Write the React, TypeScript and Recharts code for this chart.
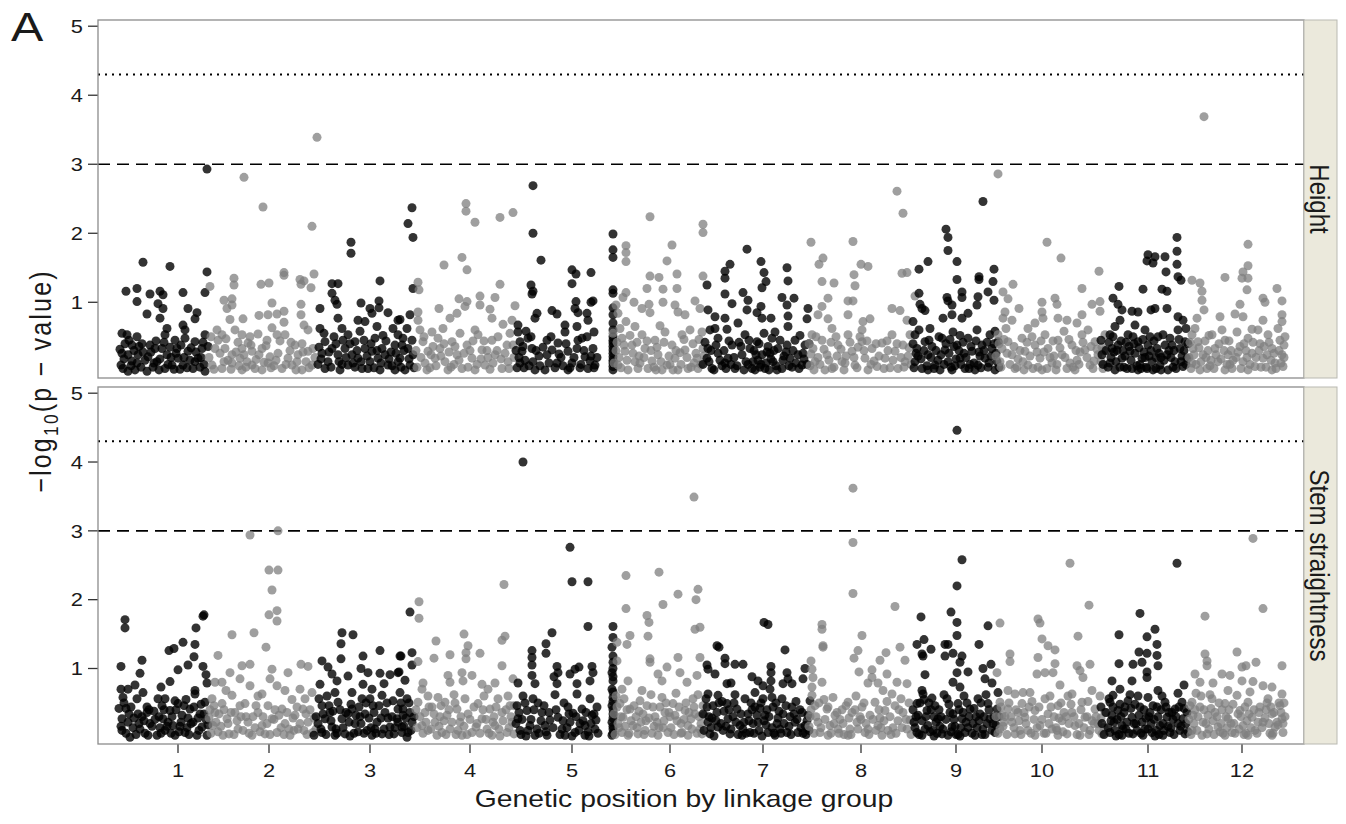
import React from "react";
import { ScatterChart, Scatter, XAxis, YAxis, ReferenceLine } from "recharts";

// ---- axis / labels ----
const GROUP_LABELS = ["1", "2", "3", "4", "5", "6", "7", "8", "9", "10", "11", "12"];
const GROUP_TICKS = [80, 171, 272, 372, 474, 572, 665, 763, 858, 944, 1050, 1144];
const Y_TICKS = [1, 2, 3, 4, 5];
const X_DOMAIN = [0, 1206];
const Y_DOMAIN = [-0.097, 5.09];
const SUGGESTIVE = 3;
const SIGNIFICANT = 4.3;
const PANELS = ["Height", "Stem straightness"];

// ---- Height: [position, -log10(p)] per linkage group ----
const H1 = [[109,2.93],[45,1.58],[72,1.52],[109,1.44],[28,1.16],[39,1.2],[39,1.01],[52,1.12],[62,1.16],[65,1.11],[85,1.14],[49,0.83],[60,0.98],[65,0.91],[62,0.77],[90,0.91],[99,0.85],[97,0.76],[107,1.14],[69,0.62],[67,0.53],[85,0.67],[87,0.6],[24,0.55],[29,0.53],[39,0.5],[27,0.4],[34,0.38],[44,0.4],[24,0.26],[30,0.24],[40,0.24],[50,0.21],[23,0.09],[30,0.0],[39,0.12],[49,0.0],[59,0.14],[64,0.33],[69,0.24],[77,0.45],[79,0.33],[80,0.19],[85,0.09],[90,0.29],[95,0.04],[97,0.43],[100,0.19],[104,0.33],[107,0.53],[107,0.0],[74,0.09],[67,0.04],[57,0.33],[87,0.48],[97,0.14],[26,0.18],[33,0.08],[45,0.28],[55,0.06],[62,0.18],[72,0.35],[82,0.03],[92,0.16],[102,0.06],[105,0.42],[36,0.3],[52,0.38],[22,0.32],[25,0.04],[31,0.45],[34,0.15],[37,0.02],[41,0.36],[43,0.06],[47,0.16],[53,0.28],[56,0.12],[58,0.44],[61,0.02],[66,0.42],[70,0.1],[73,0.2],[76,0.03],[78,0.26],[83,0.38],[86,0.2],[89,0.05],[93,0.34],[98,0.28],[103,0.2],[106,0.1],[110,0.36]];
const H2 = [[219,3.39],[146,2.81],[165,2.38],[214,2.1],[136,1.35],[136,1.25],[163,1.26],[171,1.28],[186,1.43],[186,1.39],[202,1.33],[206,1.31],[216,1.41],[203,1.26],[213,1.21],[112,1.23],[126,1.03],[134,1.05],[129,0.91],[134,0.96],[174,0.99],[203,0.97],[203,0.82],[186,0.87],[161,0.81],[170,0.82],[179,0.83],[132,0.75],[145,0.76],[174,0.63],[186,0.71],[206,0.67],[210,0.6],[119,0.6],[124,0.53],[137,0.6],[144,0.53],[152,0.5],[160,0.54],[169,0.45],[179,0.53],[187,0.53],[197,0.38],[204,0.4],[117,0.33],[127,0.33],[134,0.24],[144,0.33],[154,0.29],[164,0.33],[172,0.21],[180,0.26],[190,0.19],[200,0.24],[210,0.29],[114,0.09],[124,0.04],[134,0.12],[144,0.02],[154,0.09],[164,0.02],[170,0.12],[184,0.04],[194,0.09],[204,0.02],[214,0.09],[215,0.33],[150,0.41],[142,0.19],[120,0.45],[130,0.16],[140,0.42],[158,0.17],[176,0.08],[192,0.3],[208,0.14],[198,0.02],[148,0.06],[111,0.2],[113,0.5],[116,0.03],[122,0.26],[126,0.14],[128,0.47],[133,0.03],[138,0.28],[141,0.08],[146,0.24],[149,0.14],[153,0.38],[157,0.04],[161,0.24],[166,0.13],[168,0.37],[173,0.05],[178,0.16],[182,0.44],[188,0.1],[193,0.42],[199,0.14],[205,0.28],[211,0.05],[217,0.2]];
const H3 = [[253,1.87],[253,1.71],[234,1.27],[240,1.27],[282,1.31],[234,1.13],[237,1.03],[239,0.97],[222,0.91],[240,0.77],[263,0.99],[272,0.91],[274,0.84],[281,1.02],[281,0.92],[290,0.85],[300,0.74],[222,0.62],[244,0.62],[250,0.53],[260,0.74],[267,0.72],[279,0.65],[295,0.62],[227,0.43],[234,0.33],[230,0.14],[227,0.04],[240,0.24],[247,0.33],[250,0.09],[257,0.43],[260,0.19],[267,0.33],[270,0.04],[277,0.48],[280,0.19],[284,0.33],[290,0.09],[297,0.38],[300,0.14],[305,0.48],[242,0.02],[254,0.24],[264,0.04],[274,0.29],[287,0.24],[297,0.02],[314,2.37],[310,2.14],[315,1.94],[315,1.2],[312,0.82],[302,0.75],[309,0.62],[300,0.53],[304,0.38],[310,0.33],[302,0.19],[312,0.09],[307,0.02],[314,0.45],[315,0.24],[224,0.26],[236,0.5],[244,0.1],[262,0.58],[272,0.14],[285,0.52],[293,0.28],[257,0.06],[282,0.02],[220,0.1],[221,0.35],[223,0.18],[226,0.55],[231,0.28],[233,0.06],[238,0.4],[241,0.14],[245,0.45],[248,0.2],[252,0.4],[255,0.12],[259,0.3],[263,0.14],[266,0.45],[269,0.22],[273,0.4],[276,0.05],[279,0.3],[283,0.12],[288,0.44],[291,0.18],[294,0.08],[298,0.26],[303,0.06],[306,0.3],[311,0.18],[316,0.05]];
const H4 = [[368,2.43],[368,2.32],[377,2.16],[402,2.23],[415,2.3],[346,1.54],[364,1.65],[369,1.47],[320,1.29],[321,1.18],[402,1.26],[382,1.09],[397,1.07],[361,1.05],[369,1.01],[382,0.96],[341,0.91],[392,0.9],[352,0.77],[359,0.84],[367,0.94],[417,0.95],[394,0.77],[320,0.86],[320,0.74],[377,0.6],[405,0.68],[414,0.74],[325,0.43],[330,0.29],[327,0.12],[340,0.48],[342,0.33],[347,0.14],[354,0.43],[359,0.24],[364,0.04],[369,0.38],[374,0.19],[380,0.53],[384,0.31],[387,0.09],[394,0.45],[397,0.24],[404,0.04],[409,0.38],[410,0.14],[350,0.02],[337,0.19],[377,0.02],[334,0.57],[322,0.6],[332,0.05],[345,0.62],[356,0.1],[362,0.55],[372,0.3],[390,0.2],[400,0.5],[412,0.55],[416,0.2],[392,0.03],[335,0.36],[318,0.3],[319,0.06],[323,0.2],[326,0.5],[329,0.02],[333,0.24],[338,0.08],[343,0.22],[346,0.4],[351,0.28],[353,0.06],[357,0.36],[361,0.16],[366,0.26],[370,0.06],[375,0.44],[379,0.1],[383,0.18],[386,0.44],[389,0.3],[395,0.12],[399,0.3],[403,0.18],[407,0.26],[411,0.04],[415,0.38]];
const H5 = [[435,2.69],[435,2.0],[443,1.61],[474,1.47],[478,1.41],[493,1.43],[474,1.27],[433,1.25],[435,1.16],[434,1.12],[478,1.01],[477,0.91],[480,0.85],[495,1.02],[493,1.0],[454,0.88],[459,0.83],[439,0.84],[437,0.77],[489,0.84],[490,0.74],[420,0.67],[420,0.57],[467,0.67],[479,0.65],[496,0.57],[515,1.99],[515,1.76],[515,1.65],[515,1.18],[515,1.13],[515,0.82],[515,0.6],[515,0.5],[515,0.41],[515,0.31],[515,0.21],[515,0.12],[515,0.02],[422,0.43],[424,0.29],[422,0.12],[430,0.48],[434,0.33],[435,0.14],[437,0.02],[449,0.45],[449,0.24],[447,0.02],[459,0.12],[460,0.41],[467,0.57],[470,0.29],[474,0.12],[479,0.33],[484,0.48],[487,0.21],[490,0.04],[495,0.33],[497,0.09],[470,0.02],[454,0.31],[515,0.7],[515,0.92],[515,0.26],[515,0.07],[426,0.05],[441,0.22],[482,0.05],[492,0.15],[463,0.2],[428,0.58],[418,0.3],[419,0.05],[421,0.2],[425,0.36],[427,0.16],[431,0.08],[433,0.5],[438,0.3],[442,0.08],[445,0.35],[451,0.12],[453,0.5],[457,0.05],[461,0.25],[465,0.08],[468,0.4],[472,0.05],[476,0.2],[480,0.45],[483,0.1],[486,0.3],[489,0.5],[493,0.22],[496,0.05],[499,0.2],[515,0.16],[515,0.45],[515,0.36]];
const H6 = [[552,2.24],[605,2.13],[605,2.01],[528,1.82],[528,1.72],[528,1.59],[574,1.83],[569,1.6],[552,1.38],[561,1.36],[579,1.41],[605,1.38],[549,1.2],[565,1.19],[579,1.2],[528,1.14],[525,1.07],[536,1.0],[544,0.91],[551,0.97],[552,0.85],[565,1.0],[577,0.96],[580,0.86],[518,0.96],[520,0.84],[597,1.02],[602,0.91],[587,0.82],[528,0.72],[537,0.65],[524,0.48],[527,0.29],[520,0.09],[534,0.38],[537,0.14],[544,0.53],[547,0.33],[550,0.04],[557,0.45],[560,0.24],[567,0.57],[569,0.09],[574,0.38],[577,0.19],[584,0.53],[587,0.31],[590,0.04],[595,0.4],[599,0.19],[604,0.57],[605,0.33],[530,0.02],[564,0.02],[580,0.02],[600,0.04],[518,0.3],[522,0.62],[540,0.04],[554,0.15],[562,0.66],[572,0.1],[582,0.27],[592,0.6],[596,0.12],[558,0.02],[541,0.22],[515,0.55],[516,0.12],[519,0.42],[521,0.2],[523,0.05],[526,0.38],[529,0.16],[532,0.52],[535,0.26],[539,0.42],[542,0.12],[546,0.2],[549,0.44],[553,0.3],[556,0.06],[559,0.35],[563,0.14],[566,0.42],[571,0.22],[575,0.02],[578,0.3],[583,0.1],[586,0.46],[589,0.2],[593,0.06],[598,0.26],[601,0.46],[603,0.1],[606,0.22]];
const H7 = [[649,1.77],[632,1.55],[627,1.45],[627,1.35],[663,1.59],[666,1.43],[668,1.3],[664,1.21],[689,1.5],[690,1.31],[609,1.25],[645,1.14],[650,1.03],[649,0.89],[627,1.12],[634,0.98],[684,1.07],[696,1.06],[689,0.96],[663,0.94],[659,0.85],[664,0.77],[673,0.77],[610,0.89],[617,0.79],[627,0.77],[640,0.7],[690,0.8],[690,0.65],[710,0.91],[709,0.76],[629,0.61],[617,0.62],[677,0.57],[610,0.33],[609,0.19],[614,0.04],[620,0.48],[620,0.26],[627,0.12],[634,0.38],[637,0.04],[644,0.24],[647,0.53],[652,0.33],[655,0.14],[659,0.43],[664,0.24],[667,0.04],[670,0.36],[675,0.14],[680,0.33],[684,0.04],[689,0.38],[692,0.19],[697,0.45],[700,0.24],[704,0.09],[707,0.38],[657,0.02],[674,0.48],[630,0.19],[612,0.6],[624,0.08],[641,0.42],[650,0.1],[660,0.16],[666,0.55],[672,0.26],[678,0.08],[686,0.22],[694,0.06],[702,0.52],[706,0.18],[646,0.02],[662,0.06],[656,0.3],[668,0.12],[605,0.1],[607,0.42],[611,0.14],[613,0.3],[616,0.02],[618,0.38],[622,0.16],[626,0.3],[628,0.04],[631,0.44],[633,0.1],[636,0.2],[639,0.08],[643,0.36],[648,0.14],[651,0.45],[654,0.04],[658,0.24],[661,0.4],[663,0.1],[669,0.28],[671,0.02],[673,0.18],[676,0.3],[679,0.02],[682,0.45],[685,0.16],[688,0.28],[691,0.08],[695,0.3],[698,0.12],[701,0.04],[705,0.26],[709,0.1],[711,0.4]];
const H8 = [[799,2.61],[805,2.29],[713,1.87],[755,1.88],[725,1.64],[721,1.55],[763,1.55],[770,1.52],[756,1.4],[757,1.24],[724,1.3],[736,1.28],[804,1.42],[809,1.43],[730,1.06],[724,0.94],[750,1.02],[755,1.02],[750,0.82],[794,0.91],[802,0.88],[817,1.09],[720,0.82],[730,0.76],[734,0.62],[765,0.72],[772,0.76],[764,0.6],[809,0.74],[714,0.53],[715,0.33],[717,0.14],[724,0.45],[729,0.24],[734,0.04],[740,0.38],[744,0.14],[750,0.53],[754,0.29],[757,0.09],[764,0.43],[767,0.19],[774,0.33],[779,0.07],[784,0.41],[787,0.19],[794,0.53],[797,0.29],[800,0.04],[805,0.38],[807,0.14],[812,0.53],[727,0.02],[770,0.02],[712,0.08],[720,0.2],[738,0.5],[746,0.02],[760,0.35],[776,0.15],[790,0.3],[792,0.05],[810,0.22],[748,0.22],[711,0.4],[713,0.25],[716,0.02],[718,0.5],[722,0.1],[726,0.32],[731,0.16],[733,0.42],[736,0.06],[739,0.22],[743,0.32],[747,0.12],[752,0.42],[756,0.2],[759,0.05],[762,0.5],[766,0.3],[769,0.44],[773,0.1],[778,0.4],[781,0.22],[786,0.04],[789,0.44],[795,0.16],[799,0.4],[803,0.2],[806,0.06],[811,0.34],[813,0.1]];
const H9 = [[885,2.46],[848,2.06],[850,1.94],[850,1.75],[830,1.59],[821,1.48],[859,1.59],[859,1.33],[881,1.37],[881,1.33],[896,1.48],[895,1.3],[821,1.13],[822,0.97],[827,0.88],[824,0.91],[849,1.07],[850,1.02],[854,0.96],[864,1.15],[864,1.07],[880,1.08],[890,1.15],[896,1.03],[845,0.77],[854,0.82],[864,0.77],[870,0.84],[879,0.96],[817,0.53],[819,0.33],[817,0.14],[824,0.04],[827,0.43],[830,0.24],[837,0.09],[844,0.48],[847,0.31],[850,0.14],[855,0.57],[859,0.38],[862,0.19],[867,0.04],[870,0.48],[874,0.29],[879,0.6],[880,0.09],[884,0.38],[887,0.19],[892,0.53],[894,0.33],[899,0.14],[900,0.43],[830,0.02],[854,0.02],[877,0.02],[897,0.02],[815,0.72],[820,0.22],[834,0.36],[840,0.16],[852,0.46],[857,0.08],[866,0.26],[872,0.1],[882,0.22],[890,0.06],[897,0.58],[842,0.02],[862,0.52],[832,0.62],[815,0.4],[816,0.05],[818,0.26],[821,0.6],[823,0.18],[826,0.3],[829,0.08],[831,0.45],[833,0.2],[836,0.04],[838,0.3],[841,0.5],[843,0.24],[846,0.1],[848,0.4],[851,0.26],[853,0.06],[856,0.36],[858,0.18],[861,0.3],[863,0.1],[865,0.42],[868,0.2],[871,0.04],[873,0.36],[876,0.12],[878,0.44],[881,0.28],[883,0.05],[886,0.3],[889,0.42],[891,0.12],[893,0.22],[896,0.4],[898,0.26],[901,0.06]];
const H10 = [[900,2.86],[949,1.87],[963,1.64],[1001,1.45],[915,1.26],[984,1.2],[910,1.05],[905,1.15],[944,1.0],[957,1.06],[959,0.97],[1002,1.01],[1002,0.87],[994,0.97],[921,0.91],[907,0.86],[944,0.86],[945,0.77],[960,0.77],[969,0.74],[984,0.82],[979,0.7],[905,0.77],[914,0.74],[930,0.62],[937,0.7],[900,0.53],[904,0.33],[902,0.14],[910,0.43],[914,0.24],[917,0.04],[924,0.48],[927,0.29],[930,0.09],[937,0.38],[942,0.19],[947,0.53],[950,0.33],[954,0.12],[960,0.45],[964,0.24],[969,0.04],[974,0.38],[979,0.16],[984,0.53],[987,0.31],[992,0.09],[997,0.43],[1000,0.24],[1005,0.04],[1007,0.53],[944,0.02],[977,0.02],[908,0.62],[920,0.18],[934,0.5],[940,0.06],[956,0.22],[966,0.58],[972,0.12],[982,0.28],[990,0.6],[996,0.15],[1004,0.35],[926,0.02],[958,0.02],[898,0.22],[901,0.4],[903,0.06],[906,0.46],[909,0.26],[912,0.1],[916,0.36],[919,0.06],[922,0.3],[925,0.14],[929,0.42],[932,0.22],[935,0.04],[939,0.28],[943,0.44],[946,0.28],[949,0.04],[952,0.2],[955,0.44],[959,0.1],[962,0.34],[967,0.2],[971,0.46],[975,0.06],[978,0.3],[981,0.1],[985,0.42],[989,0.2],[993,0.36],[995,0.04],[999,0.32],[1003,0.14],[1006,0.3]];
const H11 = [[1079,1.94],[1079,1.74],[1079,1.55],[1080,1.37],[1083,1.32],[1050,1.69],[1057,1.66],[1049,1.6],[1055,1.57],[1067,1.66],[1068,1.44],[1021,1.23],[1045,1.19],[1064,1.19],[1069,1.16],[1015,1.06],[1020,0.97],[1024,0.89],[1034,0.87],[1040,0.86],[1053,0.89],[1057,0.91],[1069,0.91],[1080,0.79],[1085,0.74],[1022,0.74],[1017,0.65],[1037,0.67],[1047,0.6],[1003,0.45],[1004,0.24],[1012,0.53],[1014,0.33],[1012,0.12],[1020,0.38],[1024,0.19],[1030,0.53],[1032,0.29],[1034,0.04],[1040,0.43],[1044,0.19],[1049,0.04],[1050,0.38],[1054,0.14],[1059,0.33],[1062,0.09],[1065,0.53],[1069,0.24],[1074,0.38],[1077,0.14],[1080,0.6],[1082,0.33],[1085,0.07],[1087,0.43],[1089,0.19],[1017,0.02],[1040,0.02],[1070,0.02],[1016,0.28],[1026,0.06],[1036,0.4],[1046,0.28],[1052,0.5],[1058,0.04],[1063,0.2],[1072,0.48],[1075,0.06],[1084,0.22],[1088,0.62],[1028,0.42],[1042,0.1],[1005,0.1],[1008,0.3],[1010,0.06],[1011,0.42],[1013,0.2],[1015,0.5],[1018,0.14],[1019,0.3],[1022,0.06],[1023,0.44],[1025,0.3],[1027,0.22],[1029,0.04],[1031,0.36],[1033,0.16],[1035,0.5],[1037,0.26],[1039,0.08],[1041,0.34],[1043,0.04],[1045,0.46],[1047,0.2],[1048,0.06],[1051,0.22],[1053,0.3],[1055,0.02],[1056,0.44],[1058,0.2],[1060,0.5],[1061,0.26],[1063,0.02],[1066,0.16],[1067,0.38],[1071,0.3],[1073,0.2],[1076,0.3],[1078,0.04],[1081,0.46],[1083,0.14],[1086,0.3],[1088,0.1],[1090,0.4]];
const H12 = [[1106,3.69],[1150,1.84],[1150,1.53],[1145,1.44],[1144,1.35],[1150,1.35],[1149,1.18],[1094,1.32],[1102,1.28],[1104,1.16],[1127,1.36],[1179,1.2],[1104,1.03],[1106,0.89],[1142,0.97],[1165,1.06],[1167,1.0],[1184,1.02],[1099,0.77],[1122,0.79],[1137,0.83],[1145,0.79],[1184,0.82],[1184,0.72],[1165,0.74],[1154,0.61],[1094,0.53],[1095,0.33],[1094,0.12],[1100,0.43],[1105,0.24],[1109,0.04],[1114,0.53],[1117,0.33],[1120,0.14],[1127,0.45],[1130,0.24],[1134,0.04],[1139,0.57],[1142,0.36],[1145,0.14],[1150,0.48],[1154,0.26],[1157,0.07],[1162,0.4],[1165,0.19],[1170,0.53],[1174,0.33],[1177,0.12],[1182,0.45],[1184,0.24],[1185,0.07],[1102,0.02],[1127,0.02],[1150,0.02],[1174,0.02],[1097,0.62],[1110,0.3],[1124,0.6],[1132,0.1],[1148,0.3],[1160,0.6],[1168,0.06],[1180,0.62],[1186,0.38],[1112,0.08],[1138,0.2],[1091,0.2],[1092,0.42],[1093,0.04],[1096,0.24],[1098,0.1],[1101,0.34],[1103,0.14],[1107,0.44],[1108,0.2],[1111,0.52],[1113,0.16],[1116,0.04],[1118,0.24],[1121,0.4],[1123,0.18],[1126,0.3],[1129,0.1],[1131,0.44],[1133,0.3],[1135,0.16],[1140,0.28],[1143,0.04],[1146,0.4],[1149,0.2],[1152,0.1],[1155,0.42],[1158,0.2],[1161,0.3],[1163,0.06],[1166,0.36],[1169,0.24],[1171,0.42],[1173,0.16],[1176,0.26],[1178,0.04],[1181,0.3],[1183,0.12],[1186,0.2],[1187,0.5]];

// ---- Stem straightness ----
const S1 = [[27,1.71],[27,1.59],[23,1.03],[44,1.12],[42,0.93],[23,0.7],[30,0.7],[37,0.76],[25,0.58],[45,0.65],[39,0.56],[71,1.26],[76,1.29],[85,1.38],[80,0.98],[90,1.05],[96,1.17],[97,1.35],[98,1.59],[105,1.76],[106,1.78],[105,1.03],[108,0.91],[109,0.79],[63,0.73],[72,0.81],[97,0.68],[97,0.63],[49,0.44],[49,0.36],[67,0.56],[77,0.53],[24,0.27],[30,0.22],[24,0.1],[32,0.0],[40,0.34],[42,0.12],[52,0.2],[59,0.03],[64,0.46],[65,0.27],[67,0.1],[72,0.39],[75,0.17],[80,0.49],[84,0.32],[87,0.07],[92,0.41],[95,0.22],[99,0.03],[102,0.34],[104,0.15],[107,0.51],[109,0.03],[77,0.03],[50,0.03],[28,0.42],[35,0.14],[46,0.24],[56,0.38],[62,0.14],[70,0.22],[82,0.16],[90,0.28],[101,0.1],[108,0.26],[60,0.56],[88,0.55],[21,0.42],[23,0.16],[26,0.5],[28,0.06],[31,0.34],[33,0.44],[36,0.28],[38,0.04],[41,0.2],[44,0.3],[47,0.06],[51,0.4],[54,0.16],[57,0.26],[61,0.3],[63,0.06],[66,0.4],[69,0.16],[73,0.06],[74,0.3],[78,0.4],[81,0.08],[83,0.22],[86,0.46],[89,0.14],[91,0.04],[93,0.2],[96,0.44],[100,0.28],[103,0.48],[106,0.34],[110,0.18]];
const S2 = [[152,2.94],[180,3.0],[171,2.43],[180,2.43],[174,2.14],[179,1.84],[171,1.78],[179,1.69],[156,1.52],[134,1.49],[168,1.31],[120,1.19],[144,1.04],[152,1.06],[190,0.94],[203,1.06],[210,1.03],[174,0.99],[172,0.85],[132,0.94],[142,0.85],[117,0.8],[124,0.8],[152,0.75],[164,0.63],[179,0.75],[187,0.68],[202,0.7],[207,0.56],[114,0.56],[117,0.36],[115,0.17],[124,0.49],[129,0.27],[125,0.03],[134,0.61],[137,0.36],[140,0.12],[147,0.49],[150,0.22],[154,0.03],[160,0.36],[164,0.17],[170,0.46],[174,0.27],[179,0.07],[184,0.41],[187,0.2],[192,0.03],[197,0.32],[200,0.12],[205,0.41],[210,0.22],[215,0.07],[214,0.65],[112,0.4],[120,0.08],[131,0.05],[143,0.3],[157,0.14],[167,0.05],[177,0.4],[194,0.55],[209,0.04],[196,0.1],[160,0.6],[128,0.68],[111,0.28],[113,0.06],[116,0.46],[118,0.22],[121,0.34],[123,0.16],[126,0.4],[130,0.2],[133,0.36],[136,0.04],[139,0.24],[142,0.46],[145,0.1],[148,0.3],[151,0.06],[155,0.3],[158,0.46],[162,0.08],[165,0.3],[169,0.2],[172,0.04],[176,0.26],[181,0.32],[183,0.14],[186,0.04],[189,0.36],[191,0.12],[195,0.28],[199,0.44],[202,0.2],[206,0.1],[208,0.34],[212,0.4],[216,0.28],[218,0.12]];
const S3 = [[244,1.52],[255,1.49],[243,1.36],[243,1.14],[282,1.26],[265,1.18],[224,1.11],[230,1.02],[303,1.18],[234,0.92],[239,0.82],[263,1.0],[270,0.94],[282,0.93],[292,0.91],[301,0.95],[250,0.89],[222,0.77],[237,0.65],[254,0.65],[265,0.77],[274,0.7],[224,0.46],[227,0.27],[224,0.07],[232,0.36],[234,0.15],[240,0.51],[244,0.27],[247,0.05],[254,0.41],[257,0.2],[264,0.56],[267,0.34],[269,0.1],[275,0.46],[279,0.22],[284,0.05],[287,0.36],[292,0.15],[295,0.53],[299,0.27],[304,0.07],[305,0.41],[237,0.03],[274,0.03],[284,0.61],[312,1.82],[314,1.23],[302,1.18],[314,1.05],[300,0.94],[307,0.83],[302,0.65],[309,0.56],[300,0.41],[305,0.32],[312,0.36],[304,0.15],[310,0.07],[314,0.22],[309,0.0],[220,0.2],[229,0.6],[238,0.12],[250,0.34],[260,0.08],[262,0.3],[272,0.56],[277,0.12],[290,0.28],[296,0.05],[252,0.02],[216,0.03],[286,0.78],[218,0.3],[221,0.56],[223,0.12],[225,0.34],[228,0.04],[231,0.46],[233,0.24],[235,0.38],[239,0.06],[242,0.4],[245,0.14],[248,0.36],[251,0.22],[253,0.48],[256,0.06],[258,0.32],[261,0.44],[263,0.2],[266,0.06],[268,0.5],[271,0.28],[273,0.14],[276,0.36],[278,0.06],[281,0.46],[283,0.28],[286,0.12],[289,0.5],[291,0.04],[294,0.3],[297,0.14],[300,0.22],[303,0.5],[306,0.16],[308,0.28],[311,0.5],[313,0.1],[316,0.3]];
const S4 = [[321,1.97],[321,1.73],[406,2.22],[407,1.47],[404,1.41],[366,1.5],[338,1.4],[370,1.33],[368,1.23],[368,1.14],[382,1.22],[352,1.2],[336,1.15],[320,1.1],[404,1.04],[350,0.9],[352,0.8],[364,0.94],[374,0.9],[365,0.82],[325,0.79],[324,0.7],[384,0.77],[397,0.79],[390,0.7],[415,0.85],[340,0.58],[320,0.51],[327,0.36],[324,0.17],[334,0.44],[337,0.22],[339,0.03],[347,0.51],[349,0.32],[352,0.12],[359,0.41],[362,0.22],[367,0.56],[370,0.34],[374,0.07],[380,0.49],[384,0.27],[389,0.12],[392,0.41],[397,0.17],[400,0.56],[404,0.36],[409,0.07],[412,0.46],[414,0.22],[364,0.03],[394,0.03],[344,0.07],[330,0.6],[342,0.3],[356,0.62],[358,0.04],[378,0.15],[386,0.6],[396,0.3],[402,0.02],[410,0.6],[416,0.05],[330,0.1],[318,0.4],[319,0.14],[322,0.3],[325,0.06],[328,0.22],[331,0.44],[333,0.12],[336,0.34],[341,0.16],[343,0.46],[346,0.24],[348,0.04],[351,0.4],[354,0.22],[357,0.5],[360,0.1],[363,0.3],[366,0.16],[369,0.04],[372,0.26],[376,0.44],[379,0.2],[382,0.06],[385,0.4],[388,0.26],[391,0.06],[395,0.22],[398,0.44],[401,0.12],[405,0.24],[408,0.4],[411,0.14],[413,0.3],[416,0.46]];
const S5 = [[425,4.0],[472,2.76],[474,2.26],[490,2.26],[490,1.61],[454,1.52],[448,1.36],[448,1.22],[434,1.26],[434,1.16],[434,1.05],[420,0.79],[459,1.03],[460,0.94],[456,0.88],[459,0.78],[457,0.62],[472,0.92],[477,0.99],[481,1.02],[494,1.03],[495,0.94],[492,0.82],[479,0.78],[479,0.63],[434,0.9],[437,0.78],[515,1.61],[514,1.31],[515,1.18],[515,1.09],[514,0.94],[515,0.82],[514,0.7],[515,0.58],[514,0.46],[515,0.34],[514,0.22],[515,0.12],[514,0.03],[419,0.46],[420,0.27],[422,0.1],[429,0.39],[432,0.17],[435,0.56],[437,0.03],[444,0.36],[447,0.17],[449,0.03],[460,0.29],[464,0.12],[470,0.44],[472,0.22],[477,0.07],[484,0.41],[487,0.17],[492,0.56],[494,0.32],[497,0.12],[499,0.44],[487,0.03],[467,0.03],[515,1.45],[515,0.4],[515,0.06],[425,0.6],[440,0.5],[452,0.25],[466,0.5],[482,0.2],[490,0.08],[498,0.25],[428,0.02],[475,0.35],[418,0.2],[421,0.36],[423,0.04],[424,0.26],[427,0.5],[430,0.1],[433,0.26],[436,0.4],[439,0.12],[441,0.06],[443,0.24],[446,0.46],[448,0.08],[451,0.36],[455,0.14],[458,0.4],[462,0.04],[465,0.24],[469,0.14],[471,0.34],[474,0.02],[478,0.3],[481,0.1],[485,0.24],[488,0.36],[491,0.02],[493,0.2],[496,0.34],[500,0.06],[515,0.28],[515,0.52],[515,0.16],[515,0.66],[515,0.88],[515,1.0]];
const S6 = [[596,3.49],[528,2.35],[561,2.4],[580,2.08],[600,2.15],[598,2.0],[565,1.93],[528,1.87],[549,1.77],[551,1.67],[550,1.47],[532,1.48],[529,1.35],[519,1.38],[597,1.57],[602,1.6],[552,1.14],[552,1.09],[580,1.16],[569,1.02],[519,1.11],[602,1.16],[560,0.92],[564,0.82],[582,0.94],[530,0.82],[524,0.7],[599,0.9],[589,0.8],[544,0.68],[522,0.49],[525,0.29],[524,0.07],[532,0.41],[535,0.17],[542,0.53],[545,0.34],[547,0.1],[555,0.44],[559,0.22],[564,0.58],[567,0.36],[570,0.07],[575,0.49],[579,0.24],[584,0.07],[587,0.39],[590,0.17],[595,0.56],[597,0.34],[602,0.12],[605,0.46],[530,0.03],[560,0.03],[590,0.03],[518,0.6],[520,0.2],[538,0.3],[540,0.05],[553,0.62],[556,0.16],[572,0.3],[578,0.64],[583,0.2],[593,0.27],[600,0.62],[604,0.05],[548,0.24],[565,0.14],[516,0.34],[517,0.04],[519,0.44],[521,0.14],[523,0.3],[526,0.56],[527,0.16],[529,0.4],[531,0.06],[533,0.24],[536,0.46],[539,0.14],[541,0.38],[543,0.22],[546,0.04],[549,0.46],[551,0.28],[554,0.06],[557,0.3],[561,0.14],[562,0.44],[566,0.24],[568,0.5],[571,0.36],[573,0.14],[576,0.04],[577,0.32],[581,0.44],[583,0.06],[586,0.26],[588,0.5],[591,0.36],[594,0.12],[596,0.44],[599,0.06],[601,0.3],[603,0.2],[606,0.32]];
const S7 = [[666,1.67],[670,1.64],[687,1.27],[619,1.33],[621,1.31],[627,1.15],[627,1.07],[637,1.06],[645,1.06],[609,1.05],[610,0.99],[617,0.92],[673,1.03],[673,0.94],[673,0.82],[689,0.94],[690,0.85],[707,1.0],[705,0.85],[654,0.88],[660,0.82],[629,0.78],[633,0.79],[665,0.75],[672,0.7],[694,0.78],[685,0.78],[610,0.63],[620,0.61],[657,0.65],[674,0.58],[712,0.53],[609,0.44],[610,0.22],[612,0.05],[619,0.36],[620,0.15],[629,0.49],[630,0.27],[632,0.05],[639,0.41],[642,0.17],[647,0.56],[650,0.34],[652,0.07],[657,0.44],[660,0.22],[665,0.56],[667,0.32],[670,0.07],[675,0.44],[679,0.2],[684,0.56],[685,0.34],[689,0.07],[694,0.44],[697,0.22],[700,0.07],[704,0.36],[707,0.17],[710,0.32],[644,0.03],[677,0.03],[614,0.28],[624,0.52],[625,0.1],[635,0.3],[637,0.62],[645,0.12],[655,0.2],[662,0.42],[664,0.02],[681,0.38],[682,0.12],[692,0.3],[698,0.52],[703,0.14],[708,0.04],[653,0.5],[668,0.18],[605,0.34],[606,0.1],[608,0.56],[611,0.3],[613,0.14],[615,0.46],[616,0.02],[618,0.24],[621,0.5],[623,0.2],[626,0.38],[628,0.16],[631,0.4],[633,0.12],[636,0.5],[638,0.22],[640,0.04],[643,0.34],[646,0.22],[648,0.06],[651,0.24],[654,0.4],[656,0.06],[659,0.32],[661,0.1],[663,0.5],[666,0.24],[669,0.4],[671,0.3],[674,0.14],[676,0.06],[678,0.5],[680,0.28],[683,0.06],[686,0.2],[688,0.46],[691,0.16],[693,0.04],[696,0.34],[699,0.26],[702,0.4],[705,0.06],[709,0.24],[711,0.1]];
const S8 = [[755,3.62],[755,2.83],[755,2.09],[797,1.9],[724,1.64],[724,1.57],[764,1.48],[725,1.33],[725,1.31],[760,1.26],[756,1.15],[788,1.23],[802,1.31],[713,1.11],[714,0.99],[782,1.12],[807,1.12],[761,0.95],[774,0.98],[789,0.92],[774,0.87],[715,0.87],[724,0.8],[770,0.79],[780,0.79],[799,0.8],[809,0.78],[714,0.73],[714,0.61],[785,0.68],[794,0.63],[717,0.46],[720,0.22],[722,0.07],[729,0.41],[732,0.17],[735,0.58],[737,0.32],[750,0.51],[754,0.36],[752,0.12],[759,0.22],[764,0.44],[767,0.07],[772,0.32],[777,0.51],[780,0.17],[787,0.39],[790,0.1],[797,0.46],[800,0.24],[805,0.36],[809,0.12],[750,0.03],[784,0.03],[730,0.03],[712,0.3],[726,0.55],[740,0.12],[744,0.4],[746,0.04],[758,0.6],[762,0.3],[770,0.12],[782,0.28],[793,0.04],[803,0.56],[812,0.25],[742,0.26],[711,0.16],[713,0.4],[716,0.06],[718,0.3],[721,0.5],[723,0.14],[727,0.26],[730,0.44],[733,0.06],[736,0.2],[739,0.36],[741,0.06],[745,0.2],[748,0.46],[751,0.28],[753,0.04],[757,0.4],[760,0.12],[763,0.26],[766,0.5],[768,0.2],[771,0.04],[775,0.26],[778,0.1],[781,0.4],[783,0.14],[786,0.24],[789,0.52],[792,0.3],[795,0.14],[798,0.06],[801,0.4],[804,0.14],[808,0.26],[811,0.5],[813,0.04]];
const S9 = [[859,4.46],[864,2.58],[859,2.2],[853,1.82],[859,1.67],[823,1.75],[859,1.48],[850,1.35],[847,1.35],[890,1.62],[881,1.35],[819,1.35],[826,1.42],[833,1.28],[824,1.21],[825,1.18],[847,1.18],[855,1.22],[864,1.18],[862,1.09],[859,0.94],[885,1.0],[893,1.06],[827,0.91],[870,0.95],[887,0.85],[894,0.79],[855,0.8],[862,0.73],[824,0.68],[825,0.63],[834,0.57],[819,0.49],[820,0.32],[819,0.07],[829,0.39],[830,0.17],[837,0.46],[840,0.27],[844,0.05],[849,0.56],[852,0.36],[854,0.15],[860,0.49],[864,0.27],[867,0.07],[872,0.41],[875,0.2],[880,0.56],[882,0.34],[885,0.12],[890,0.49],[892,0.27],[897,0.07],[899,0.41],[900,0.65],[824,0.03],[850,0.03],[877,0.03],[816,0.22],[826,0.55],[832,0.08],[836,0.3],[842,0.16],[846,0.62],[856,0.26],[858,0.04],[866,0.6],[870,0.14],[878,0.3],[884,0.04],[888,0.62],[895,0.2],[862,0.02],[836,0.02],[815,0.4],[817,0.14],[818,0.3],[821,0.04],[822,0.5],[824,0.24],[827,0.12],[828,0.3],[831,0.5],[833,0.4],[835,0.1],[838,0.22],[839,0.06],[841,0.4],[843,0.3],[845,0.12],[848,0.26],[851,0.48],[853,0.08],[855,0.34],[857,0.16],[860,0.04],[861,0.4],[863,0.14],[865,0.36],[868,0.22],[869,0.5],[871,0.3],[874,0.06],[876,0.42],[879,0.14],[881,0.24],[883,0.5],[886,0.3],[887,0.04],[889,0.2],[891,0.4],[894,0.1],[896,0.3],[898,0.18],[901,0.3]];
const S10 = [[902,1.66],[972,2.53],[991,1.92],[940,1.72],[942,1.66],[980,1.47],[944,1.43],[950,1.33],[957,1.27],[912,1.21],[912,1.1],[940,1.16],[957,1.07],[955,0.94],[979,1.04],[992,1.06],[982,0.97],[985,0.87],[939,0.92],[947,0.94],[899,0.94],[962,0.76],[974,0.63],[910,0.68],[917,0.63],[925,0.65],[932,0.65],[994,0.68],[902,0.51],[904,0.32],[902,0.12],[910,0.41],[914,0.22],[917,0.05],[924,0.49],[927,0.29],[930,0.1],[937,0.39],[942,0.17],[947,0.56],[950,0.34],[954,0.12],[960,0.46],[964,0.24],[969,0.05],[974,0.36],[977,0.17],[984,0.51],[987,0.29],[992,0.1],[997,0.41],[1000,0.2],[1004,0.05],[1007,0.36],[937,0.03],[982,0.03],[906,0.22],[920,0.36],[922,0.1],[934,0.52],[946,0.06],[952,0.6],[958,0.14],[966,0.36],[970,0.6],[990,0.52],[996,0.2],[1002,0.6],[960,0.03],[898,0.3],[900,0.06],[903,0.44],[905,0.16],[907,0.3],[909,0.04],[911,0.5],[913,0.3],[916,0.14],[918,0.4],[921,0.24],[923,0.04],[926,0.36],[928,0.2],[931,0.44],[933,0.06],[936,0.26],[939,0.14],[941,0.44],[944,0.26],[948,0.06],[951,0.2],[953,0.44],[956,0.3],[959,0.1],[961,0.28],[963,0.5],[965,0.08],[968,0.3],[971,0.2],[973,0.48],[976,0.3],[979,0.04],[981,0.2],[983,0.4],[986,0.14],[989,0.3],[991,0.04],[994,0.24],[998,0.3],[1001,0.1],[1003,0.28],[1006,0.14]];
const S11 = [[1079,2.53],[1042,1.8],[1021,1.49],[1057,1.57],[1049,1.46],[1059,1.35],[1041,1.24],[1049,1.22],[1059,1.19],[1021,1.07],[1035,1.06],[1044,1.09],[1060,1.04],[1049,0.95],[1049,0.87],[1014,0.82],[1034,0.82],[1022,0.7],[1015,0.61],[1080,0.64],[1086,0.76],[1060,0.68],[1003,0.44],[1012,0.51],[1014,0.32],[1012,0.07],[1020,0.39],[1024,0.17],[1030,0.53],[1034,0.29],[1035,0.05],[1042,0.44],[1044,0.22],[1050,0.58],[1052,0.36],[1054,0.07],[1059,0.44],[1062,0.17],[1067,0.51],[1069,0.29],[1072,0.07],[1077,0.41],[1080,0.2],[1084,0.51],[1085,0.27],[1087,0.05],[1089,0.36],[1024,0.03],[1045,0.03],[1065,0.03],[1016,0.22],[1018,0.02],[1026,0.36],[1028,0.12],[1038,0.2],[1040,0.6],[1047,0.12],[1056,0.26],[1064,0.6],[1070,0.16],[1074,0.36],[1082,0.1],[1057,0.02],[1032,0.62],[1004,0.2],[1006,0.04],[1008,0.36],[1010,0.14],[1011,0.56],[1013,0.24],[1015,0.44],[1017,0.1],[1019,0.26],[1021,0.04],[1022,0.48],[1023,0.3],[1025,0.12],[1027,0.44],[1029,0.22],[1031,0.06],[1033,0.42],[1036,0.2],[1037,0.48],[1039,0.1],[1041,0.32],[1043,0.06],[1046,0.4],[1048,0.28],[1050,0.12],[1051,0.3],[1053,0.2],[1055,0.46],[1058,0.1],[1060,0.3],[1061,0.04],[1063,0.4],[1065,0.2],[1066,0.1],[1068,0.44],[1071,0.36],[1073,0.14],[1075,0.26],[1076,0.04],[1078,0.3],[1081,0.44],[1083,0.16],[1086,0.42],[1088,0.2],[1090,0.08]];
const S12 = [[1155,2.89],[1165,1.87],[1107,1.76],[1139,1.24],[1107,1.21],[1109,1.11],[1109,1.04],[1158,1.09],[1148,1.04],[1144,1.02],[1184,1.04],[1097,0.92],[1102,0.8],[1124,0.92],[1132,0.9],[1115,0.79],[1144,0.82],[1155,0.81],[1165,0.75],[1174,0.73],[1184,0.63],[1130,0.68],[1094,0.51],[1095,0.32],[1094,0.1],[1102,0.44],[1105,0.22],[1109,0.05],[1114,0.56],[1117,0.36],[1120,0.15],[1127,0.49],[1130,0.27],[1134,0.07],[1139,0.61],[1142,0.39],[1145,0.17],[1150,0.51],[1154,0.29],[1157,0.1],[1162,0.44],[1165,0.22],[1170,0.56],[1174,0.34],[1177,0.15],[1182,0.46],[1184,0.27],[1185,0.07],[1104,0.03],[1127,0.03],[1150,0.03],[1174,0.03],[1098,0.64],[1110,0.32],[1112,0.62],[1122,0.08],[1124,0.4],[1136,0.2],[1148,0.06],[1152,0.66],[1160,0.22],[1168,0.4],[1172,0.06],[1180,0.18],[1186,0.5],[1091,0.26],[1092,0.46],[1093,0.04],[1096,0.2],[1097,0.4],[1099,0.1],[1100,0.3],[1103,0.6],[1106,0.4],[1108,0.2],[1111,0.12],[1113,0.42],[1115,0.24],[1116,0.04],[1119,0.3],[1121,0.5],[1123,0.2],[1125,0.06],[1128,0.3],[1129,0.14],[1131,0.4],[1133,0.2],[1135,0.48],[1137,0.06],[1140,0.34],[1141,0.12],[1143,0.3],[1146,0.04],[1147,0.44],[1149,0.24],[1151,0.34],[1153,0.14],[1156,0.4],[1159,0.06],[1161,0.36],[1164,0.14],[1167,0.28],[1169,0.5],[1171,0.2],[1173,0.44],[1175,0.06],[1176,0.36],[1179,0.22],[1181,0.5],[1183,0.36],[1185,0.2],[1187,0.3]];

const HEIGHT_GROUPS = [H1, H2, H3, H4, H5, H6, H7, H8, H9, H10, H11, H12];
const STEM_GROUPS = [S1, S2, S3, S4, S5, S6, S7, S8, S9, S10, S11, S12];

// ---- style ----
const FONT = "'Liberation Sans', Arial, Helvetica, sans-serif";
const SX = 1.18; // horizontal stretch of the original figure's text
const R = 4.5;
const DARK = { fill: "#000000", op: 0.8 };
const LIGHT = { fill: "#7f7f7f", op: 0.75 };
const TEXT = "#1a1a1a";

const toPts = (arr: number[][]) => arr.map(([x, y]) => ({ x, y }));

const dotShape = (fill: string, op: number) => (p: any) => {
  if (p == null || p.cx == null || p.cy == null) return <g />;
  return <circle cx={p.cx} cy={p.cy} r={R} fill={fill} fillOpacity={op} stroke="none" />;
};

const YTick = (props: any) => {
  const { x, y, payload } = props;
  return (
    <text
      transform={`translate(${x},${y}) scale(${SX},1)`}
      textAnchor="end"
      dy="0.36em"
      fontSize={18.5}
      fontFamily={FONT}
      fill={TEXT}
    >
      {payload.value}
    </text>
  );
};

const XTick = (props: any) => {
  const { x, y, payload, index } = props;
  const label = GROUP_LABELS[index] ?? GROUP_LABELS[GROUP_TICKS.indexOf(payload.value)];
  return (
    <text
      transform={`translate(${x},${y}) scale(${SX},1)`}
      textAnchor="middle"
      dy="0.71em"
      fontSize={18.5}
      fontFamily={FONT}
      fill={TEXT}
    >
      {label}
    </text>
  );
};

function Panel({ groups, showX, height, margin }: any) {
  return (
    <ScatterChart width={1346} height={height} margin={margin}>
      <XAxis
        type="number"
        dataKey="x"
        domain={X_DOMAIN}
        ticks={GROUP_TICKS}
        allowDataOverflow
        hide={!showX}
        height={40}
        axisLine={false}
        tickLine={{ stroke: "#333", strokeWidth: 1.3 }}
        tickSize={9}
        tickMargin={11}
        tick={<XTick />}
        interval={0}
      />
      <YAxis
        type="number"
        dataKey="y"
        domain={Y_DOMAIN}
        ticks={Y_TICKS}
        allowDataOverflow
        width={98}
        axisLine={false}
        tickLine={{ stroke: "#333", strokeWidth: 1.3 }}
        tickSize={10}
        tickMargin={5}
        tick={<YTick />}
        interval={0}
      />
      {groups.map((g: number[][], i: number) => {
        const c = i % 2 === 0 ? DARK : LIGHT;
        return (
          <Scatter
            key={i}
            data={toPts(g)}
            isAnimationActive={false}
            shape={dotShape(c.fill, c.op)}
          />
        );
      })}
      <ReferenceLine y={SUGGESTIVE} stroke="#000" strokeWidth={1.7} strokeDasharray="12 7" />
      <ReferenceLine y={SIGNIFICANT} stroke="#000" strokeWidth={2} strokeDasharray="2 5" />
    </ScatterChart>
  );
}

export default function App() {
  const panelBoxes = [
    { y: 20, h: 358, label: PANELS[0] },
    { y: 387, h: 357, label: PANELS[1] },
  ];
  return (
    <div
      style={{
        position: "absolute",
        left: 0,
        top: 0,
        width: 1346,
        height: 824,
        background: "#ffffff",
        overflow: "hidden",
        fontFamily: FONT,
      }}
    >
      <div style={{ position: "absolute", left: 0, top: 0 }}>
        <Panel
          groups={HEIGHT_GROUPS}
          showX={false}
          height={380}
          margin={{ top: 20, right: 42, bottom: 2, left: 0 }}
        />
      </div>
      <div style={{ position: "absolute", left: 0, top: 380 }}>
        <Panel
          groups={STEM_GROUPS}
          showX={true}
          height={444}
          margin={{ top: 7, right: 42, bottom: 40, left: 0 }}
        />
      </div>
      <svg
        width={1346}
        height={824}
        style={{ position: "absolute", left: 0, top: 0, pointerEvents: "none" }}
      >
        {panelBoxes.map((b, i) => (
          <g key={i}>
            <rect x={98} y={b.y} width={1206} height={b.h} fill="none" stroke="#8c8c8c" strokeWidth={1.3} />
            <rect x={1304} y={b.y} width={33} height={b.h} fill="#ebe9dc" stroke="#b9b9b2" strokeWidth={1} />
            <text
              transform={`translate(1320.5,${b.y + b.h / 2}) scale(${SX},1) rotate(90)`}
              textAnchor="middle"
              dy="0.36em"
              fontSize={24}
              fontFamily={FONT}
              fill={TEXT}
            >
              {b.label}
            </text>
          </g>
        ))}
        <text transform={`translate(11,41) scale(${SX},1)`} fontSize={41} fontFamily={FONT} fill={TEXT}>
          A
        </text>
        <text
          transform={`translate(51,381) scale(${SX},1) rotate(-90)`}
          textAnchor="middle"
          fontSize={25}
          fontFamily={FONT}
          fill={TEXT}
          letterSpacing={2.2}
        >
          −log<tspan fontSize={17.5} dy={6}>10</tspan>
          <tspan dy={-6}>(p − value)</tspan>
        </text>
        <text
          transform={`translate(684,807) scale(${SX},1)`}
          textAnchor="middle"
          fontSize={24}
          fontFamily={FONT}
          fill={TEXT}
        >
          Genetic position by linkage group
        </text>
      </svg>
    </div>
  );
}
